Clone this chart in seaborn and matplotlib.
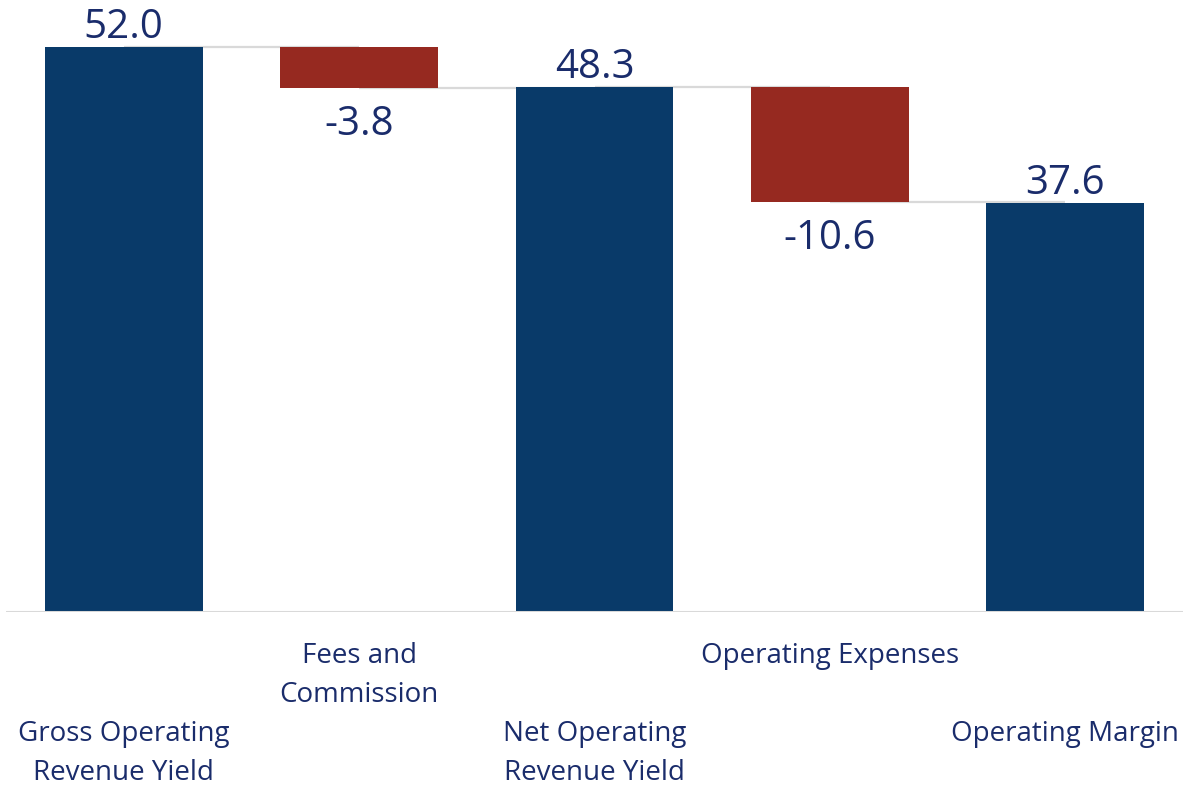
import matplotlib
matplotlib.use("Agg")
import matplotlib.pyplot as plt
import seaborn as sns
import pandas as pd

# Waterfall steps: running totals and the changes between them
categories = [
    "Gross Operating\nRevenue Yield",
    "Fees and\nCommission",
    "Net Operating\nRevenue Yield",
    "Operating Expenses",
    "Operating Margin",
]
values = [52.0, -3.8, 48.3, -10.6, 37.6]
kinds = ["total", "change", "total", "change", "total"]
value_labels = ["52.0", "-3.8", "48.3", "-10.6", "37.6"]

NAVY = "#093a69"
RED = "#962920"
TEXT = "#1a2c6b"
GRID = "#d9d9d9"

# Compute the floating extent of every bar
lows, highs = [], []
level = 0.0
for v, k in zip(values, kinds):
    if k == "total":
        lo, hi = 0.0, v
        level = v
    else:
        start = level
        level = start + v
        lo, hi = min(start, level), max(start, level)
    lows.append(lo)
    highs.append(hi)

df = pd.DataFrame({"category": categories, "low": lows, "high": highs, "kind": kinds})
df["span"] = df["high"] - df["low"]

sns.set_theme(style="white")
plt.rcParams["font.family"] = ["Open Sans", "DejaVu Sans"]

fig = plt.figure(figsize=(11.91, 7.86), dpi=100)
ax = fig.add_axes([6 / 1191, 174 / 786, 1177 / 1191, 597.6 / 786])

sns.barplot(
    data=df, x="category", y="span", hue="kind",
    palette={"total": NAVY, "change": RED}, dodge=False,
    width=0.67, linewidth=0, saturation=1, legend=False, ax=ax, zorder=3,
)

# Lift each bar to its floating position
for patch in ax.patches:
    cx = patch.get_x() + patch.get_width() / 2
    idx = int(round(cx))
    patch.set_y(df["low"][idx])

ax.set_xlim(-0.5, 4.5)
ax.set_ylim(0, 55)

# Connector lines between consecutive bars, at the level where each step ends
for i in range(len(values) - 1):
    y = df["low"][i] if kinds[i] == "change" else df["high"][i]
    ax.plot([i, i + 1], [y, y], color=GRID, lw=1.6, zorder=1, solid_capstyle="butt")

# Value labels: totals above, changes below
for i, (lab, k) in enumerate(zip(value_labels, kinds)):
    if k == "total":
        ax.annotate(lab, xy=(i, df["high"][i]), xytext=(0, -1), textcoords="offset pixels",
                    ha="center", va="bottom", fontsize=29, color=TEXT, annotation_clip=False)
    else:
        ax.annotate(lab, xy=(i, df["low"][i]), xytext=(0, -16), textcoords="offset pixels",
                    ha="center", va="top", fontsize=29, color=TEXT, annotation_clip=False)

# Staggered category labels
for i, cat in enumerate(categories):
    off = -30 if i % 2 == 1 else -108
    ax.annotate(cat, xy=(i, 0), xycoords=("data", "axes fraction"), xytext=(0, off),
                textcoords="offset pixels", ha="center", va="top", fontsize=20,
                color=TEXT, linespacing=1.5, annotation_clip=False)

ax.axhline(0, color=GRID, lw=2.2, zorder=4)
ax.set_xticks([])
ax.set_yticks([])
ax.set_xlabel("")
ax.set_ylabel("")
for s in ax.spines.values():
    s.set_visible(False)

fig.savefig("out.png", dpi=100, facecolor="white")
